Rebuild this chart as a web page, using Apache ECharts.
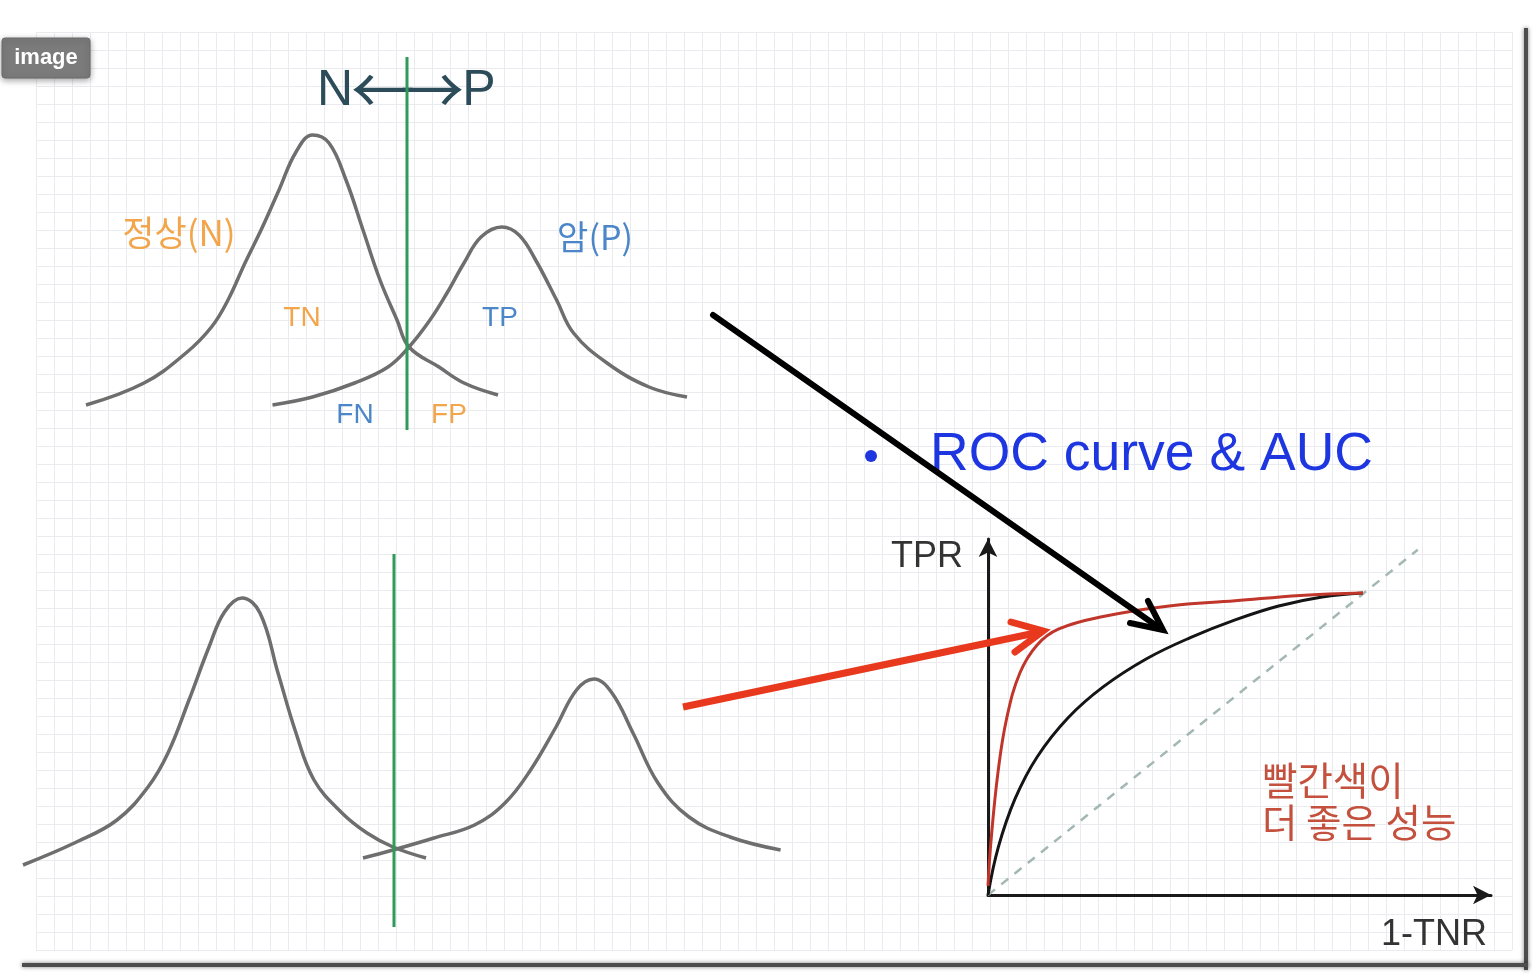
<!DOCTYPE html>
<html>
<head>
<meta charset="utf-8">
<style>
  html, body { margin: 0; padding: 0; background: #ffffff; }
  #chart { width: 1536px; height: 976px; }
</style>
<script src="https://cdn.jsdelivr.net/npm/echarts@6/dist/echarts.min.js"></script>
</head>
<body>
<div id="chart"></div>
<script>
// ---------- DATA ----------
// Upper panel: score (x) vs density (y) for the two classes
const topNormal = [[0.6,3.5],[6.4,5.7],[10.6,8.7],[13.15,11.3],[14.8,14.0],[16.5,17.7],[18.2,21.2],[19.9,25.0],[21.6,28.8],[23.25,30.5],[24.9,29.7],[26.6,26.0],[28.3,21.0],[30.0,16.0],[31.7,12.0],[32.9,9.3],[35.9,7.3],[38.4,5.7],[41.8,4.5]];
const topCancer = [[19.25,3.5],[23.25,4.3],[27.46,5.7],[30.8,7.3],[32.9,9.3],[35.0,12.0],[36.7,14.7],[38.4,17.7],[40.1,20.3],[42.2,21.3],[43.9,20.5],[45.56,18.0],[47.66,14.0],[49.35,10.7],[52.7,7.7],[56.9,5.3],[60.7,4.3]];
const topThreshold = [[32.7,1.0],[32.7,38.3]];

// Lower panel: better separated classes
const bottomNormal = [[0.3,7.5],[5.65,9.8],[9.7,12.0],[12.8,15.3],[14.8,18.7],[16.9,24.0],[18.9,29.3],[20.45,32.8],[22.2,34.2],[24.0,32.7],[25.8,26.7],[27.6,20.7],[29.4,16.0],[32.2,12.7],[34.7,10.7],[37.3,9.3],[40.6,8.2]];
const bottomCancer = [[34.3,8.2],[37.3,9.0],[41.4,10.2],[45.45,11.5],[48.5,13.7],[51.06,17.0],[53.6,21.3],[55.65,25.0],[57.4,26.1],[59.2,24.7],[61.3,20.7],[63.8,15.7],[66.9,12.3],[71.0,10.3],[76.06,9.0]];
const bottomThreshold = [[37.4,1.3],[37.4,38.6]];

// ROC curves: [1-TNR, TPR]
const rocRed = [[0,0.03],[0.008,0.179],[0.027,0.41],[0.05,0.586],[0.085,0.735],[0.131,0.828],[0.189,0.881],[0.307,0.922],[0.483,0.957],[0.659,0.974],[0.833,0.992],[1,1]];
const rocBlack = [[0,0],[0.027,0.156],[0.072,0.318],[0.131,0.457],[0.213,0.586],[0.307,0.689],[0.424,0.783],[0.541,0.853],[0.659,0.911],[0.775,0.957],[0.891,0.987],[1,1]];
const rocChance = [[0,0],[1.146,1.143]];

// Texts
const titleText = 'ROC curve & AUC';
const headingParts = ['N', '←', '→', 'P'];
const classLabels = ['정상(N)', '암(P)'];
const cellLabels = ['TN', 'TP', 'FN', 'FP'];
const axisNames = ['TPR', '1-TNR'];
const noteLines = ['빨간색이', '더 좋은 성능'];

// ---------- CHART ----------
const chart = echarts.init(document.getElementById('chart'), null, { renderer: 'canvas' });

const hiddenAxis = (min, max, grid) => ({
  type: 'value', min: min, max: max, gridIndex: grid,
  axisLine: { show: false }, axisTick: { show: false }, axisLabel: { show: false }, splitLine: { show: false }
});

const LAT = '"Liberation Sans", Arial, sans-serif';
const KR = '"Noto Sans CJK KR", sans-serif';
const ORANGE = '#f2a54a';
const BLUE = '#4a86c8';
const HEAD = '#2b4c58';

function txt(x, y, text, font, fill, align, z) {
  return { type: 'text', x: x, y: y, z: z || 1,
    style: { text: text, font: font, fill: fill, align: align || 'center', verticalAlign: 'middle',
             textAlign: align || 'center', textVerticalAlign: 'middle' } };
}

const curveStyle = { color: '#6e6e6e', width: 3.5 };
const lineSeries = (data, g, style, extra) => Object.assign({
  type: 'line', data: data, xAxisIndex: g, yAxisIndex: g, showSymbol: false, symbol: 'none',
  smooth: 0.4, lineStyle: style, silent: true, z: 3
}, extra || {});

const option = {
  animation: false,
  backgroundColor: '#ffffff',
  grid: [
    { left: 36, top: 32, width: 1476, height: 918 },   // paper grid
    { left: 80, top: 40, width: 620, height: 400 },    // upper distributions
    { left: 20, top: 540, width: 780, height: 400 },   // lower distributions
    { left: 988, top: 539, width: 503, height: 356 }   // ROC
  ],
  xAxis: [
    { type: 'value', gridIndex: 0, min: 0, max: 1476, interval: 18,
      axisLine: { show: false }, axisTick: { show: false }, axisLabel: { show: false },
      splitLine: { show: true, lineStyle: { color: '#e9ebef', width: 1 } } },
    hiddenAxis(0, 62, 1),
    hiddenAxis(0, 78, 2),
    { type: 'value', gridIndex: 3, min: 0, max: 1.3413,
      axisLine: { show: true, onZero: false, symbol: ['none', 'arrow'], symbolSize: [14, 18],
                  lineStyle: { color: '#1a1a1a', width: 3 } },
      axisTick: { show: false }, axisLabel: { show: false }, splitLine: { show: false } }
  ],
  yAxis: [
    { type: 'value', gridIndex: 0, min: 0, max: 918, interval: 18,
      axisLine: { show: false }, axisTick: { show: false }, axisLabel: { show: false },
      splitLine: { show: true, lineStyle: { color: '#e9ebef', width: 1 } } },
    hiddenAxis(0, 40, 1),
    hiddenAxis(0, 40, 2),
    { type: 'value', gridIndex: 3, min: 0, max: 1.1788,
      axisLine: { show: true, onZero: false, symbol: ['none', 'arrow'], symbolSize: [14, 18],
                  lineStyle: { color: '#1a1a1a', width: 3 } },
      axisTick: { show: false }, axisLabel: { show: false }, splitLine: { show: false } }
  ],
  series: [
    lineSeries(topNormal, 1, curveStyle),
    lineSeries(topCancer, 1, curveStyle),
    lineSeries(topThreshold, 1, { color: '#2f9a5a', width: 3 }, { smooth: false, z: 4 }),
    lineSeries(bottomNormal, 2, curveStyle),
    lineSeries(bottomCancer, 2, curveStyle),
    lineSeries(bottomThreshold, 2, { color: '#2f9a5a', width: 3 }, { smooth: false, z: 4 }),
    lineSeries(rocChance, 3, { color: '#a3b8b3', width: 2.5, type: [9, 8] }, { smooth: false }),
    lineSeries(rocBlack, 3, { color: '#151515', width: 3 }, { smooth: 0.4 }),
    lineSeries(rocRed, 3, { color: '#c0362a', width: 3 }, { smooth: 0.4, z: 4 })
  ],
  graphic: [
    // slide borders
    { type: 'rect', z: 5, shape: { x: 1524, y: 28, width: 4, height: 942 },
      style: { fill: '#4d4d4d', shadowBlur: 4, shadowColor: 'rgba(0,0,0,0.5)' } },
    { type: 'rect', z: 5, shape: { x: 22, y: 963, width: 1506, height: 4 },
      style: { fill: '#4d4d4d', shadowBlur: 4, shadowColor: 'rgba(0,0,0,0.5)' } },
    // image badge
    { type: 'rect', z: 20, shape: { x: 2, y: 38, width: 88, height: 40, r: 3 },
      style: { fill: '#7b7b7b', stroke: '#6a6a6a', lineWidth: 1, shadowBlur: 6, shadowOffsetY: 2, shadowColor: 'rgba(0,0,0,0.35)' } },
    txt(46, 58, 'image', 'bold 22px ' + LAT, '#ffffff', 'center', 21),
    // N <-> P heading
    txt(335, 91, headingParts[0], '50px ' + LAT, HEAD, 'center', 1),
    txt(383, 90, headingParts[1], '64px ' + KR, HEAD, 'center', 1),
    txt(432, 90, headingParts[2], '64px ' + KR, HEAD, 'center', 1),
    txt(479, 91, headingParts[3], '50px ' + LAT, HEAD, 'center', 1),
    // class labels
    txt(179, 233, classLabels[0], '35px ' + KR, ORANGE),
    txt(595, 237, classLabels[1], '34px ' + KR, BLUE),
    txt(302, 318, cellLabels[0], '28px ' + LAT, ORANGE),
    txt(500, 318, cellLabels[1], '28px ' + LAT, BLUE),
    txt(355, 415, cellLabels[2], '28px ' + LAT, BLUE),
    txt(449, 415, cellLabels[3], '28px ' + LAT, ORANGE),
    // ROC title
    { type: 'circle', z: 1, shape: { cx: 871, cy: 456, r: 6 }, style: { fill: '#1e36e0' } },
    txt(930, 455, titleText, '53.5px ' + LAT, '#1e36e0', 'left', 1),
    // axis names
    txt(927, 557, axisNames[0], '36px ' + LAT, '#333333'),
    txt(1434, 935, axisNames[1], '36px ' + LAT, '#333333'),
    // note
    txt(1262, 780, noteLines[0], '38.5px ' + KR, '#c4503e', 'left'),
    txt(1262, 822, noteLines[1], '38.5px ' + KR, '#c4503e', 'left'),
    // black arrow
    { type: 'line', z: 50, shape: { x1: 713, y1: 315, x2: 1161, y2: 629 },
      style: { stroke: '#000000', lineWidth: 6, lineCap: 'round' } },
    { type: 'polyline', z: 50, shape: { points: [[1130, 623], [1163, 630], [1148, 601]] },
      style: { stroke: '#000000', lineWidth: 6, lineCap: 'round', lineJoin: 'miter', fill: null } },
    // red arrow
    { type: 'line', z: 50, shape: { x1: 683, y1: 707, x2: 1040, y2: 632 },
      style: { stroke: '#e8391f', lineWidth: 7, lineCap: 'butt' } },
    { type: 'polyline', z: 50, shape: { points: [[1011, 622], [1043, 631], [1015, 652]] },
      style: { stroke: '#e8391f', lineWidth: 7, lineCap: 'round', lineJoin: 'miter', fill: null } }
  ]
};

chart.setOption(option);
</script>
</body>
</html>
